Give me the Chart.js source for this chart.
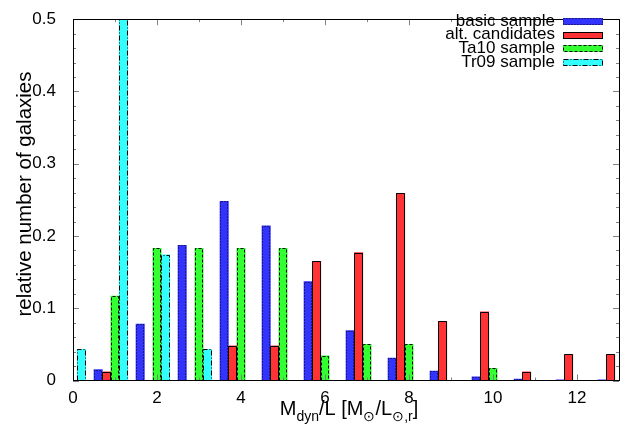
<!DOCTYPE html>
<html>

<head>
    <title>Mdyn/L histogram</title>
    <script src="https://cdn.jsdelivr.net/npm/chart.js"></script>
    <style>
        body {
            margin: 0;
            background-color: #fff;
        }

        #wrap {
            width: 642px;
            height: 432px;
        }
    </style>
</head>

<body>
    <div id="wrap">
        <canvas id="histChart" width="642" height="432"></canvas>
    </div>

    <script>
        // histogram bins (M_dyn/L, unit bins)
        const bins = [0, 1, 2, 3, 4, 5, 6, 7, 8, 9, 10, 11, 12, 13];
        const basicSample = [0, 0.015, 0.078, 0.187, 0.248, 0.214, 0.137, 0.069, 0.031, 0.013, 0.005, 0.002, 0.001, 0.001];
        const altCandidates = [0, 0.012, 0, 0, 0.048, 0.048, 0.165, 0.177, 0.259, 0.082, 0.095, 0.012, 0.036, 0.036];
        const ta10Sample = [0, 0.117, 0.183, 0.183, 0.183, 0.183, 0.034, 0.050, 0.050, 0, 0.017, 0, 0, 0];
        const tr09Sample = [0.043, 0.5, 0.174, 0.043, 0, 0, 0, 0, 0, 0, 0, 0, 0, 0];
        const seriesNames = ['basic sample', 'alt. candidates', 'Ta10 sample', 'Tr09 sample'];
        const xTicks = [0, 2, 4, 6, 8, 10, 12];
        const yTicks = [0, 0.1, 0.2, 0.3, 0.4, 0.5];

        const colors = ['#3333ff', '#ff3333', '#33ff33', '#33ffff'];
        const dashes = [[1, 2], [], [3, 2], [5, 2, 1, 2]];
        const FONT = '"Liberation Sans", Arial, sans-serif';

        function points(values) {
            // group of bars sits slightly left of the bin value
            return values.map((v, i) => ({ x: bins[i] - 0.1, y: v }));
        }

        // frame, inward ticks, bar outlines, legend and axis titles
        const decorPlugin = {
            id: 'decor',
            afterDatasetsDraw(chart) {
                const ctx = chart.ctx;
                const area = chart.chartArea;
                const xs = chart.scales.x;
                const ys = chart.scales.y;

                // bar outlines with dash styles
                ctx.save();
                ctx.beginPath();
                ctx.rect(area.left, area.top - 1, area.right - area.left, area.bottom - area.top + 1);
                ctx.clip();
                chart.data.datasets.forEach((ds, di) => {
                    const meta = chart.getDatasetMeta(di);
                    ctx.strokeStyle = '#000';
                    ctx.lineWidth = 1;
                    ctx.setLineDash(dashes[di]);
                    meta.data.forEach(el => {
                        const p = el.getProps(['x', 'y', 'base', 'width'], true);
                        const l = Math.round(p.x - p.width / 2) + 0.5;
                        const r = Math.round(p.x + p.width / 2) - 0.5;
                        const t = Math.round(Math.max(p.y, area.top)) + 0.5;
                        const b = Math.round(p.base) - 0.5;
                        ctx.beginPath();
                        ctx.moveTo(l, b);
                        ctx.lineTo(l, t);
                        ctx.lineTo(r, t);
                        ctx.lineTo(r, b);
                        ctx.stroke();
                    });
                });
                ctx.restore();

                // ticks
                ctx.save();
                ctx.strokeStyle = '#808080';
                ctx.lineWidth = 1;
                ctx.beginPath();
                for (let v = 0; v <= 13; v += 1) {
                    const px = Math.round(xs.getPixelForValue(v)) + 0.5;
                    const len = v % 2 === 0 ? 6 : 3;
                    ctx.moveTo(px, area.bottom);
                    ctx.lineTo(px, area.bottom - len);
                    ctx.moveTo(px, area.top);
                    ctx.lineTo(px, area.top + len);
                }
                for (let k = 0; k <= 25; k++) {
                    const py = Math.round(ys.getPixelForValue(k * 0.02)) + 0.5;
                    const len = k % 5 === 0 ? 6 : 3;
                    ctx.moveTo(area.left, py);
                    ctx.lineTo(area.left + len, py);
                    ctx.moveTo(area.right, py);
                    ctx.lineTo(area.right - len, py);
                }
                ctx.stroke();
                ctx.restore();

                // frame
                ctx.save();
                ctx.strokeStyle = '#000';
                ctx.lineWidth = 1;
                ctx.strokeRect(Math.round(area.left) + 0.5, Math.round(area.top) + 0.5,
                    Math.round(area.right - area.left), Math.round(area.bottom - area.top));
                ctx.restore();

                // legend
                ctx.save();
                ctx.font = '17px ' + FONT;
                ctx.fillStyle = '#000';
                ctx.textAlign = 'right';
                ctx.textBaseline = 'middle';
                seriesNames.forEach((name, i) => {
                    const cy = 21 + i * 13.7;
                    ctx.fillText(name, 555, cy);
                    ctx.fillStyle = colors[i];
                    ctx.fillRect(563, Math.round(cy) - 3, 40, 7);
                    ctx.strokeStyle = '#000';
                    ctx.setLineDash(dashes[i]);
                    ctx.strokeRect(563.5, Math.round(cy) - 2.5, 39, 6);
                    ctx.setLineDash([]);
                    ctx.fillStyle = '#000';
                });
                ctx.restore();

                // y axis title
                ctx.save();
                ctx.font = '20.5px ' + FONT;
                ctx.fillStyle = '#000';
                ctx.textAlign = 'center';
                ctx.textBaseline = 'middle';
                ctx.translate(25, 194);
                ctx.rotate(-Math.PI / 2);
                ctx.fillText('relative number of galaxies', 0, 0);
                ctx.restore();

                // x axis title with subscripts
                ctx.save();
                ctx.fillStyle = '#000';
                ctx.textBaseline = 'alphabetic';
                const parts = [
                    ['M', false], ['dyn', true], ['/L [M', false], ['\u2299', true],
                    ['/L', false], ['\u2299,r', true], [']', false]
                ];
                const big = '20px ' + FONT;
                const small = '14px ' + FONT;
                let total = 0;
                parts.forEach(([s, sub]) => {
                    ctx.font = sub ? small : big;
                    total += ctx.measureText(s).width;
                });
                let x = 349 - total / 2;
                parts.forEach(([s, sub]) => {
                    ctx.font = sub ? small : big;
                    ctx.fillText(s, x, sub ? 421 : 415);
                    x += ctx.measureText(s).width;
                });
                ctx.restore();
            }
        };

        const ctxHist = document.getElementById('histChart').getContext('2d');
        const histChart = new Chart(ctxHist, {
            type: 'bar',
            data: {
                datasets: seriesNames.map((name, i) => ({
                    label: name,
                    data: points([basicSample, altCandidates, ta10Sample, tr09Sample][i]),
                    backgroundColor: colors[i],
                    borderWidth: 0,
                    barThickness: 8.4
                }))
            },
            options: {
                responsive: false,
                animation: false,
                layout: {
                    padding: { top: 8, right: 23, left: 0, bottom: 0 }
                },
                plugins: {
                    legend: { display: false },
                    tooltip: { enabled: false }
                },
                scales: {
                    x: {
                        type: 'linear',
                        min: 0,
                        max: 13,
                        offset: false,
                        grid: { display: false },
                        border: { display: false },
                        afterBuildTicks: s => { s.ticks = xTicks.map(v => ({ value: v })); },
                        afterFit: s => { s.height = 51.5; },
                        ticks: {
                            color: '#000',
                            font: { size: 17, family: FONT },
                            padding: 0,
                            maxRotation: 0
                        }
                    },
                    y: {
                        min: 0,
                        max: 0.5,
                        grid: { display: false },
                        border: { display: false },
                        afterBuildTicks: s => { s.ticks = yTicks.map(v => ({ value: v })); },
                        afterFit: s => { s.width = 73; },
                        ticks: {
                            color: '#000',
                            font: { size: 17, family: FONT },
                            padding: 9,
                            callback: v => (v === 0 ? '0' : v.toFixed(1))
                        }
                    }
                }
            },
            plugins: [decorPlugin]
        });
    </script>
</body>

</html>
